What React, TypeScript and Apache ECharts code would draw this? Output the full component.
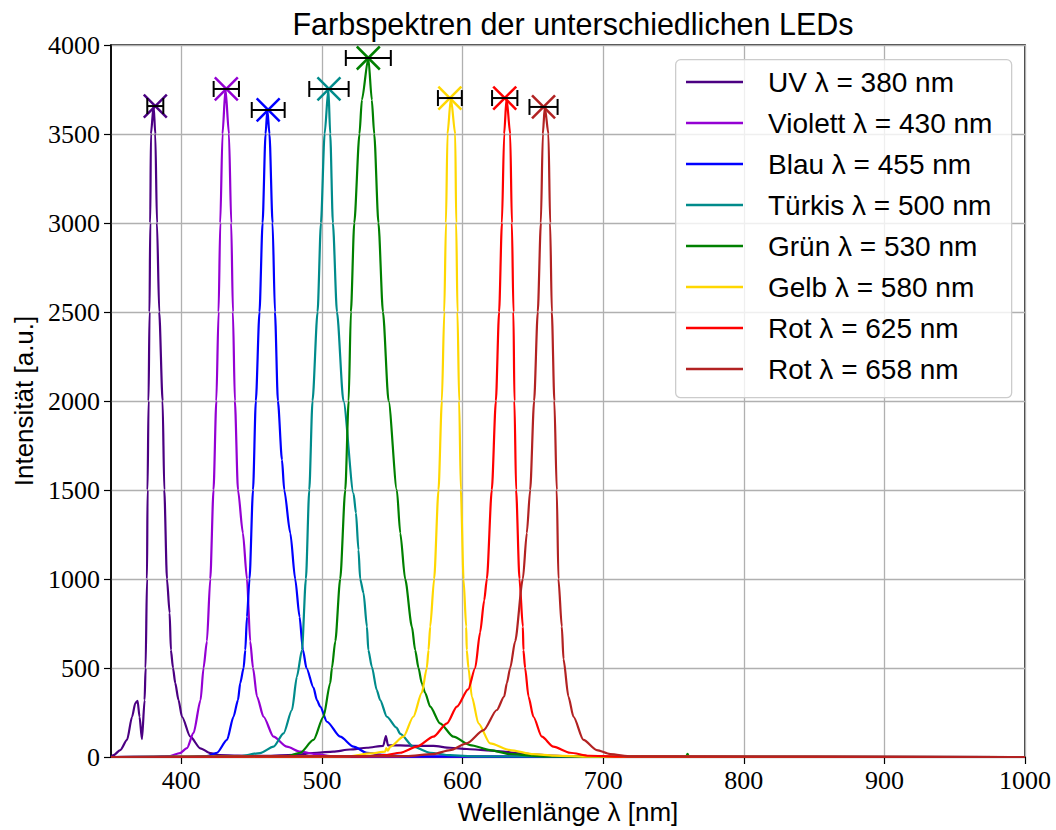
import React, { useEffect, useRef } from "react";
import * as echarts from "echarts";

const seriesNames = [
  "UV λ = 380 nm",
  "Violett λ = 430 nm",
  "Blau λ = 455 nm",
  "Türkis λ = 500 nm",
  "Grün λ = 530 nm",
  "Gelb λ = 580 nm",
  "Rot λ = 625 nm",
  "Rot λ = 658 nm",
];
const seriesColors = ["#4B0082", "#9400D3", "#0000FF", "#008B8B", "#008000", "#FFD700", "#FF0000", "#B22222"];

const uvWavelength = [350, 351.8, 356.6, 361.4, 365, 367.3, 368.9, 370.3, 372, 373.9, 374.6, 375.6, 376, 376.7, 377.4, 377.9, 378.4, 380.3, 381.5, 382.7, 384.3, 386.7, 387.9, 389.8, 391.7, 392.6, 394.1, 395.7, 398, 400.5, 406.4, 413.5, 420.6, 427, 440, 460, 480, 496.4, 508, 520, 532, 543.6, 545.5, 547, 555.7, 567.5, 579.3, 591.2, 603, 615, 626.7, 638.6, 650, 662, 680, 700, 800, 1000];
const uvIntensity = [0, 10, 39, 96, 226, 303, 316, 226, 100, 320, 500, 1000, 1500, 2000, 2500, 3000, 3500, 3660, 3500, 3000, 2500, 2000, 1500, 1000, 809, 601, 500, 415, 320, 226, 114, 49, 22, 10, 8, 6, 12, 24, 30, 42, 52, 63, 118, 65, 65, 62, 62, 52, 45, 39, 32, 22, 15, 8, 3, 1, 0, 0];

const violettWavelength = [350, 380, 392, 399, 404, 408.7, 413.7, 415.8, 418.2, 420.6, 422.9, 424.9, 426.5, 427.7, 429.3, 431.4, 433.9, 435.5, 436.7, 438.1, 440.3, 443.8, 446.7, 449, 451, 453.8, 458.5, 465.6, 475.1, 484.6, 496.4, 508, 530, 1000];
const violettIntensity = [0, 1, 5, 22, 50, 135, 320, 500, 650, 1000, 1500, 2000, 2500, 3000, 3500, 3753, 3500, 3000, 2500, 2000, 1500, 1258, 1000, 650, 500, 340, 226, 114, 58, 30, 15, 5, 2, 0];

const blauWavelength = [350, 405, 418, 425.4, 432.5, 437.1, 440.3, 441.9, 444.3, 445.5, 446.7, 448.5, 451, 453, 455.6, 457.8, 459.9, 461.2, 462.7, 464.9, 466.6, 468.7, 471.6, 473.2, 477.5, 481, 484.1, 486.5, 489, 494, 496.4, 498.8, 503.6, 513, 522.5, 532, 543.6, 560, 1000];
const blauIntensity = [0, 1, 5, 24, 96, 226, 320, 415, 500, 601, 787, 1000, 1500, 2000, 2500, 3000, 3500, 3635, 3500, 3000, 2500, 2000, 1669, 1500, 1258, 1000, 787, 601, 500, 390, 320, 283, 198, 114, 58, 24, 12, 3, 0];

const tuerkisWavelength = [350, 440, 456, 465.6, 472.7, 478.7, 482.2, 485.8, 488.6, 491, 493.3, 496.9, 499.3, 501.9, 504.6, 505.9, 507.8, 510.7, 515.3, 522.5, 524.2, 526, 527.2, 529.6, 532, 533, 535.5, 539, 541.4, 546.2, 553, 555.7, 565, 577, 591, 610, 1000];
const tuerkisIntensity = [0, 3, 22, 58, 133, 264, 451, 601, 1000, 1500, 2000, 2500, 3000, 3500, 3753, 3500, 3000, 2500, 2000, 1480, 1371, 1163, 1000, 921, 732, 601, 507, 376, 320, 226, 165, 130, 58, 24, 10, 3, 0];

const gruenWavelength = [350, 460, 475, 484.6, 494, 501.1, 505.9, 507.1, 509.5, 513, 516.6, 519, 520.6, 523, 526.7, 528.4, 533, 535.5, 537.2, 540.2, 543.4, 547.4, 553.3, 555.7, 559.2, 564, 566.3, 568.7, 571, 573.4, 577, 584, 593.5, 605.4, 619.6, 634, 660, 759, 760, 761, 1000];
const gruenIntensity = [0, 2, 5, 24, 96, 226, 415, 500, 650, 1000, 1500, 2000, 2500, 3000, 3500, 3691, 3927, 3691, 3500, 3000, 2500, 2000, 1500, 1258, 1000, 732, 601, 500, 415, 360, 283, 189, 114, 67, 39, 16, 3, 0, 18, 0, 0];

const gelbWavelength = [350, 500, 520, 534.3, 545, 545.7, 547, 548.5, 558, 565, 571, 574.6, 575.8, 577, 579.8, 582.9, 585.3, 587, 588.2, 589.3, 591.7, 594.8, 595.5, 596.4, 597.6, 598.8, 600.7, 602.6, 603, 604.2, 606.6, 611.3, 619.6, 633.8, 650.4, 665, 690, 1000];
const gelbIntensity = [0, 2, 5, 20, 30, 50, 35, 58, 114, 226, 360, 500, 601, 732, 1000, 1500, 2000, 2500, 3000, 3500, 3702, 3500, 3000, 2500, 2000, 1500, 1000, 732, 601, 500, 340, 189, 77, 39, 16, 8, 2, 0];

const rot625Wavelength = [350, 530, 544, 555.7, 567.5, 579.3, 588.9, 596, 604, 609, 612.5, 615.4, 617.3, 620.8, 623.7, 626, 628, 629.6, 631.3, 633.9, 635.1, 636.2, 636.9, 638.1, 640.5, 642.9, 643.3, 644.5, 646.9, 650.4, 656.4, 664.6, 676.5, 690, 710, 1000];
const rot625Intensity = [0, 4, 10, 24, 58, 114, 189, 283, 380, 500, 700, 880, 1000, 1500, 2000, 2500, 3000, 3500, 3702, 3500, 3000, 2500, 2000, 1500, 1000, 732, 601, 500, 340, 226, 114, 58, 24, 7, 2, 0];

const rot658Wavelength = [350, 560, 579, 591.2, 603, 615, 624.4, 629.6, 631.5, 633.9, 637.4, 642.9, 645.7, 648.1, 650.9, 653.5, 655.7, 657.1, 658.5, 661.1, 662.3, 663.5, 665.3, 667, 668.2, 670.6, 671.8, 675.3, 678.9, 686, 695.5, 705, 720, 1000];
const rot658Intensity = [0, 5, 16, 39, 77, 151, 264, 340, 415, 500, 650, 1000, 1258, 1500, 2000, 2500, 3000, 3500, 3652, 3500, 3000, 2500, 2000, 1500, 1000, 732, 550, 340, 226, 96, 39, 16, 3, 0];

const peakWavelength = [381.5, 432, 461.8, 505, 533, 591, 630, 657.6];
const peakIntensity = [3657, 3753, 3635, 3753, 3927, 3702, 3702, 3652];
const peakError = [5.7, 9, 11.7, 14, 16, 8.5, 9, 10];

const xTickValues = [400, 500, 600, 700, 800, 900, 1000];

const spectra = [
  [uvWavelength, uvIntensity],
  [violettWavelength, violettIntensity],
  [blauWavelength, blauIntensity],
  [tuerkisWavelength, tuerkisIntensity],
  [gruenWavelength, gruenIntensity],
  [gelbWavelength, gelbIntensity],
  [rot625Wavelength, rot625Intensity],
  [rot658Wavelength, rot658Intensity],
];

const SANS = "'Liberation Sans', 'DejaVu Sans', sans-serif";
const SERIF = "'Liberation Serif', 'DejaVu Serif', serif";

export default function App() {
  const ref = useRef<HTMLDivElement>(null);

  useEffect(() => {
    if (!ref.current) return;
    const chart = echarts.init(ref.current, null, { renderer: "svg" });

    const lineSeries = spectra.map(([xs, ys], i) => ({
      name: seriesNames[i],
      type: "line",
      data: xs.map((x, j) => [x, ys[j]]),
      showSymbol: false,
      smooth: 0.25,
      smoothMonotone: "x",
      lineStyle: { width: 2.2, color: seriesColors[i] },
      itemStyle: { color: seriesColors[i] },
      z: 2,
    }));

    const errorSeries = {
      type: "custom",
      name: "peaks",
      data: peakWavelength.map((w, i) => [w, peakIntensity[i], peakError[i], i]),
      encode: { x: 0, y: 1 },
      z: 5,
      silent: true,
      renderItem: (params: any, api: any) => {
        const w = api.value(0);
        const v = api.value(1);
        const e = api.value(2);
        const idx = api.value(3);
        const c = api.coord([w, v]);
        const l = api.coord([w - e, v]);
        const r = api.coord([w + e, v]);
        const s = 11.5;
        const cap = 8;
        const color = seriesColors[idx];
        return {
          type: "group",
          children: [
            { type: "line", shape: { x1: c[0] - s, y1: c[1] - s, x2: c[0] + s, y2: c[1] + s }, style: { stroke: color, lineWidth: 2.5 } },
            { type: "line", shape: { x1: c[0] - s, y1: c[1] + s, x2: c[0] + s, y2: c[1] - s }, style: { stroke: color, lineWidth: 2.5 } },
            { type: "line", shape: { x1: l[0], y1: l[1], x2: r[0], y2: r[1] }, style: { stroke: "#000", lineWidth: 2 } },
            { type: "line", shape: { x1: l[0], y1: l[1] - cap, x2: l[0], y2: l[1] + cap }, style: { stroke: "#000", lineWidth: 2 } },
            { type: "line", shape: { x1: r[0], y1: r[1] - cap, x2: r[0], y2: r[1] + cap }, style: { stroke: "#000", lineWidth: 2 } },
          ],
        };
      },
    };

    const plain = (v: number) => String(v);

    chart.setOption({
      animation: false,
      backgroundColor: "#ffffff",
      title: {
        text: "Farbspektren der unterschiedlichen LEDs",
        left: 568,
        top: 3,
        textAlign: "center",
        textStyle: { fontFamily: SANS, fontSize: 30.5, fontWeight: "normal", color: "#000" },
      },
      grid: {
        left: 111,
        right: 31,
        top: 45,
        bottom: 73,
        show: true,
        borderColor: "#000",
        borderWidth: 1.5,
        backgroundColor: "transparent",
      },
      legend: {
        data: seriesNames,
        orient: "vertical",
        left: 686,
        top: 67,
        padding: 0,
        icon: "rect",
        itemWidth: 57,
        itemHeight: 2.5,
        itemGap: 11,
        selectedMode: false,
        textStyle: { fontFamily: SANS, fontSize: 28, color: "#000", lineHeight: 30, padding: [0, 0, 0, 20] },
        z: 6,
      },
      graphic: [
        {
          type: "rect",
          left: 675,
          top: 59,
          z: 4,
          shape: { width: 336, height: 338, r: 5 },
          style: { fill: "rgba(255,255,255,0.8)", stroke: "#cccccc", lineWidth: 1.3 },
        },
      ],
      xAxis: {
        type: "value",
        min: 350,
        max: 1000,
        name: "Wellenlänge λ [nm]",
        nameLocation: "middle",
        nameGap: 42,
        nameTextStyle: { fontFamily: SANS, fontSize: 26, color: "#000" },
        axisLine: { show: true, lineStyle: { color: "#000", width: 1.5 } },
        axisTick: { show: true, length: 7, inside: false, lineStyle: { color: "#000", width: 1.2 }, customValues: xTickValues },
        axisLabel: { fontFamily: SERIF, fontSize: 26, color: "#000", margin: 10, customValues: xTickValues, showMaxLabel: true, showMinLabel: true, formatter: plain },
        splitLine: { show: true, lineStyle: { color: "#b0b0b0", width: 1.3 } },
      },
      yAxis: {
        type: "value",
        min: 0,
        max: 4000,
        interval: 500,
        name: "Intensität [a.u.]",
        nameLocation: "middle",
        nameGap: 73,
        nameRotate: 90,
        nameTextStyle: { fontFamily: SANS, fontSize: 26, color: "#000" },
        axisLine: { show: true, lineStyle: { color: "#000", width: 1.5 } },
        axisTick: { show: true, length: 7, inside: false, lineStyle: { color: "#000", width: 1.2 } },
        axisLabel: { fontFamily: SERIF, fontSize: 26, color: "#000", margin: 11, formatter: plain },
        splitLine: { show: true, lineStyle: { color: "#b0b0b0", width: 1.3 } },
      },
      series: [...lineSeries, errorSeries],
    });

    return () => chart.dispose();
  }, []);

  return (
    <div
      ref={ref}
      style={{ position: "absolute", left: 0, top: 0, width: 1056, height: 830, background: "#fff" }}
    />
  );
}
